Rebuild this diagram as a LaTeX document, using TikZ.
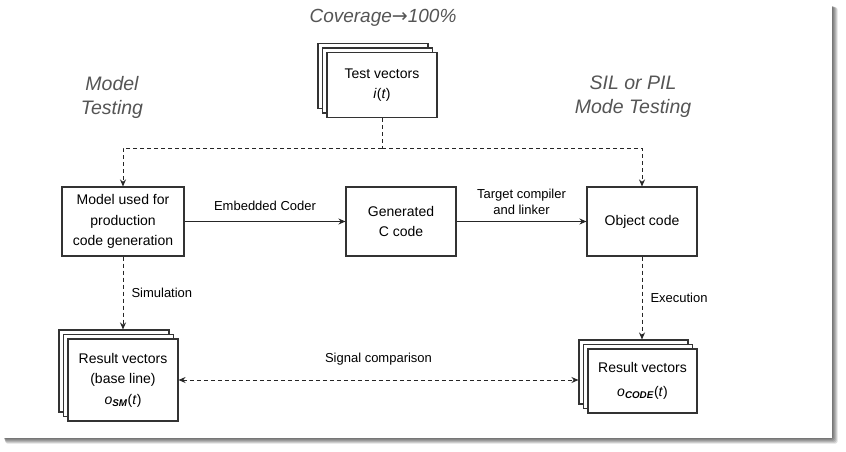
\documentclass[tikz,border=0pt]{standalone}
\usepackage{fontspec}
\setmainfont{Liberation Sans}
\newfontfamily\arrfont{DejaVu Sans}
\usetikzlibrary{arrows.meta}
\definecolor{ttl}{HTML}{555555}
\definecolor{edge}{HTML}{333333}
\begin{document}
\begin{tikzpicture}[x=1pt,y=-1pt,
  box/.style={draw=edge,line width=1.1pt,fill=white,inner sep=2pt,align=center,
    font=\fontsize{14}{20.5}\selectfont},
  lbl/.style={font=\fontsize{13}{16}\selectfont,align=center,inner sep=0pt},
  ttlstyle/.style={font=\fontsize{19.5}{24}\selectfont\itshape,text=ttl,align=center,inner sep=0pt},
  arr/.style={line width=1pt,draw=black!85,-{Stealth[length=7pt,width=6pt]}},
  dsh/.style={line width=1pt,draw=black!85,dash pattern=on 4pt off 3pt}]
\useasboundingbox (0,0) rectangle (846,452);
% panel with shadow
\foreach \d in {1,...,6}
  \fill[black,opacity=0.13,rounded corners=2pt] (3+\d*0.4,5+\d*0.4) rectangle (831.5+\d,437.5+\d);
\fill[white] (-2,-2) rectangle (832,438);

% titles
\node[ttlstyle,font=\fontsize{19}{24}\selectfont\itshape] (cov) at (383,18) {Coverage{\arrfont\upshape→}100\%};
\node[ttlstyle] (mt) at (112,97) {Model\\Testing};
\node[ttlstyle] (sil) at (633,97) {SIL or PIL\\Mode Testing};

% test vectors stack
\node[box,minimum width=110pt,minimum height=65pt] (tv2) at (373,76) {};
\node[box,minimum width=110pt,minimum height=65pt] (tv1) at (377.5,80.5) {};
\node[box,minimum width=110pt,minimum height=65pt] (tv) at (382,85) {Test vectors\\\textit{i}(\textit{t})};

% main row
\node[box,minimum width=122pt,minimum height=69pt] (model) at (123,221.5) {Model used for\\production\\code generation};
\node[box,minimum width=110pt,minimum height=69pt] (cc) at (401,221.5) {Generated\\C code};
\node[box,minimum width=110pt,minimum height=69pt] (obj) at (642,221.5) {Object code};

% left result stack
\node[box,minimum width=110pt,minimum height=82pt] (rl2) at (114,371) {};
\node[box,minimum width=110pt,minimum height=82pt] (rl1) at (118.5,375.5) {};
\node[box,minimum width=110pt,minimum height=82pt] (rl) at (123,380) {Result vectors\\(base line)\\\textit{o}\textsubscript{\textbf{\textit{SM}}}(\textit{t})};

% right result stack
\node[box,minimum width=109pt,minimum height=64pt] (rr2) at (633.5,372) {};
\node[box,minimum width=109pt,minimum height=64pt] (rr1) at (638,376.5) {};
\node[box,minimum width=109pt,minimum height=64pt] (rr) at (642.5,381) {Result vectors\\[3pt]\textit{o}\textsubscript{\textbf{\textit{CODE}}}(\textit{t})};

% connectors
\coordinate (j) at (382,148);
\draw[dsh] (tv.south) -- (j);
\draw[dsh,arr] (j) -| (model.north);
\draw[dsh,arr] (j) -| (obj.north);
\draw[arr] (model.east) -- node[lbl,above=10pt] (ec) {Embedded Coder} (cc.west);
\draw[arr] (cc.east) -- node[lbl,above=6pt] (tc) {Target compiler\\and linker} (obj.west);
\draw[dsh,arr] (model.south) -- node[lbl,right=8pt] (sim) {Simulation} (model.south |- rl2.north);
\draw[dsh,arr] (obj.south) -- node[lbl,right=8pt] (exe) {Execution} (obj.south |- rr2.north);
\draw[dsh,{Stealth[length=7pt,width=6pt]}-{Stealth[length=7pt,width=6pt]}] (rl.east) -- node[lbl,above=14pt] (sc) {Signal comparison} (rl.east -| rr2.west);
\end{tikzpicture}
\end{document}
